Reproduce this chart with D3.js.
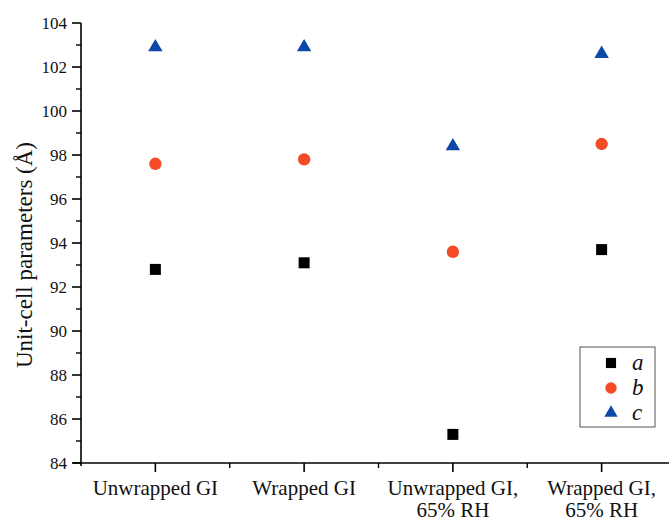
<!DOCTYPE html>
<html>
<head>
<meta charset="utf-8">
<script src="https://cdn.jsdelivr.net/npm/d3@7"></script>
<style>
  body { margin: 0; background: #fff; }
  svg text { font-family: "Liberation Serif", "Times New Roman", serif; fill: #111; }
</style>
</head>
<body>
<div id="chart"></div>
<script>
// categories along the x axis (two-line labels)
const categories = [
    ["Unwrapped GI"],
    ["Wrapped GI"],
    ["Unwrapped GI,", "65% RH"],
    ["Wrapped GI,", "65% RH"]
];
const seriesNames = ["a", "b", "c"];
const valuesA = [92.8, 93.1, 85.3, 93.7];
const valuesB = [97.6, 97.8, 93.6, 98.5];
const valuesC = [102.9, 102.9, 98.4, 102.6];
const yTicks = [84, 86, 88, 90, 92, 94, 96, 98, 100, 102, 104];

const width = 669, height = 521;
const margin = { left: 81, top: 23, bottom: 58 };

const svg = d3.select("#chart").append("svg")
    .attr("width", width)
    .attr("height", height);

const x = d3.scaleLinear()
    .domain([0.5, 4.5])
    .range([margin.left, 676]);

const y = d3.scaleLinear()
    .domain([84, 104])
    .range([height - margin.bottom, margin.top]);

const colors = { a: "#000000", b: "#f24b25", c: "#0c48a6" };
const shapes = { a: d3.symbolSquare, b: d3.symbolCircle, c: d3.symbolTriangle };
const sizes = { a: 121, b: 120, c: 90 };

// y axis
const yAxis = svg.append("g")
    .attr("transform", `translate(${margin.left},0)`);
yAxis.append("line")
    .attr("y1", y(104)).attr("y2", y(84) + 3)
    .attr("stroke", "#000").attr("stroke-width", 1.6);
yAxis.selectAll(".major")
    .data(yTicks)
    .join("line")
    .attr("x1", -9).attr("x2", 0)
    .attr("y1", d => y(d)).attr("y2", d => y(d))
    .attr("stroke", "#000").attr("stroke-width", 1.6);
yAxis.selectAll(".minor")
    .data(yTicks.slice(1).map(d => d - 1))
    .join("line")
    .attr("x1", -5).attr("x2", 0)
    .attr("y1", d => y(d)).attr("y2", d => y(d))
    .attr("stroke", "#000").attr("stroke-width", 1.4);
yAxis.selectAll("text")
    .data(yTicks)
    .join("text")
    .attr("x", -14)
    .attr("y", d => y(d))
    .attr("dy", "0.35em")
    .attr("text-anchor", "end")
    .style("font-size", "17px")
    .text(d => d);

// x axis
const xAxis = svg.append("g")
    .attr("transform", `translate(0,${y(84)})`);
xAxis.append("line")
    .attr("x1", margin.left - 8).attr("x2", width)
    .attr("stroke", "#000").attr("stroke-width", 1.6);
xAxis.selectAll(".major")
    .data(categories)
    .join("line")
    .attr("x1", (d, i) => x(i + 1)).attr("x2", (d, i) => x(i + 1))
    .attr("y1", 0).attr("y2", 9)
    .attr("stroke", "#000").attr("stroke-width", 1.6);
xAxis.selectAll(".minor")
    .data(categories)
    .join("line")
    .attr("x1", (d, i) => x(i + 1.5)).attr("x2", (d, i) => x(i + 1.5))
    .attr("y1", 0).attr("y2", 5)
    .attr("stroke", "#000").attr("stroke-width", 1.4);
xAxis.selectAll("text")
    .data(categories)
    .join("text")
    .attr("text-anchor", "middle")
    .attr("y", 32)
    .style("font-size", "21px")
    .selectAll("tspan")
    .data((d, i) => d.map(line => ({ line, i })))
    .join("tspan")
    .attr("x", d => x(d.i + 1))
    .attr("dy", (d, j) => j === 0 ? 0 : 22)
    .text(d => d.line);

// y title
svg.append("text")
    .attr("transform", "translate(32,255) rotate(-90)")
    .attr("text-anchor", "middle")
    .style("font-size", "23px")
    .text("Unit-cell parameters (Å)");

// points
const series = [
    { name: "a", values: valuesA },
    { name: "b", values: valuesB },
    { name: "c", values: valuesC }
];
series.forEach(s => {
    svg.append("g")
        .selectAll("path")
        .data(s.values)
        .join("path")
        .attr("transform", (d, i) => `translate(${x(i + 1)},${y(d)})`)
        .attr("d", d3.symbol().type(shapes[s.name]).size(sizes[s.name]))
        .attr("fill", colors[s.name]);
});

// legend
const legend = svg.append("g").attr("transform", "translate(580,347)");
legend.append("rect")
    .attr("width", 75).attr("height", 80)
    .attr("fill", "#fff")
    .attr("stroke", "#555").attr("stroke-width", 1);
legend.selectAll("path")
    .data(seriesNames)
    .join("path")
    .attr("transform", (d, i) => `translate(31,${16 + i * 25})`)
    .attr("d", d => d3.symbol().type(shapes[d]).size(sizes[d] * 0.85)())
    .attr("fill", d => colors[d]);
legend.selectAll("text")
    .data(seriesNames)
    .join("text")
    .attr("x", 52)
    .attr("y", (d, i) => 16 + i * 25)
    .attr("dy", "0.32em")
    .style("font-size", "23px")
    .style("font-style", "italic")
    .text(d => d);
</script>
</body>
</html>
